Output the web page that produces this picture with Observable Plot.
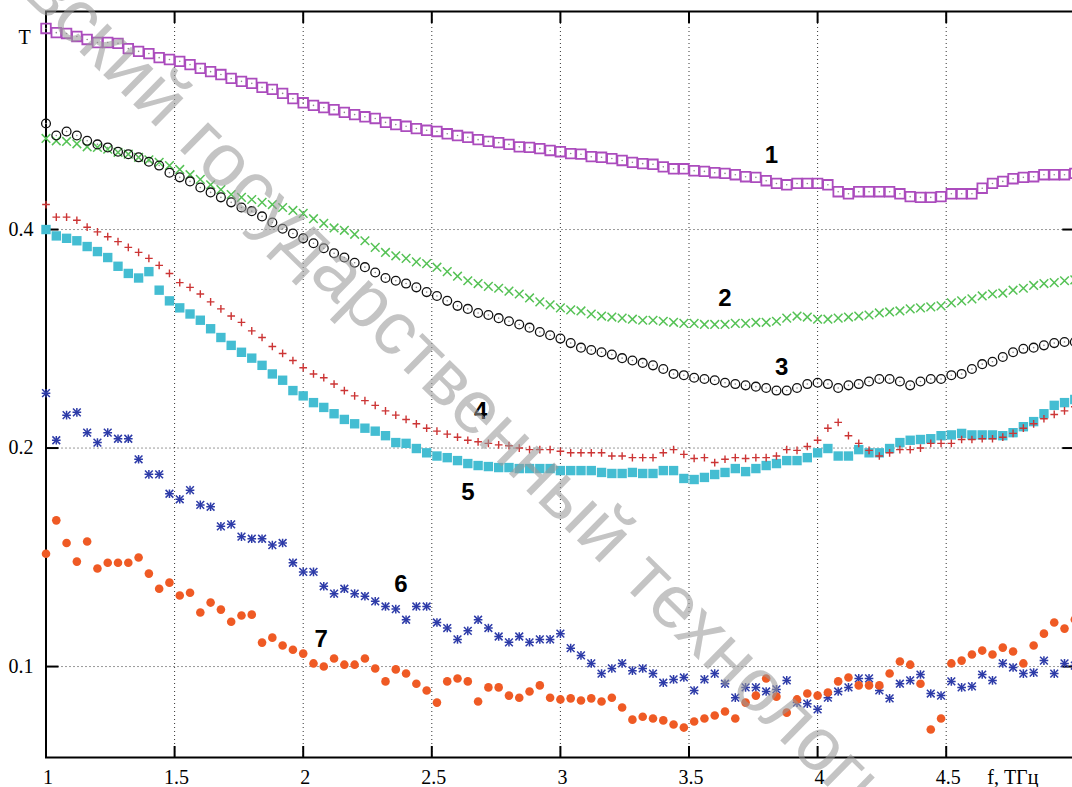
<!DOCTYPE html>
<html><head><meta charset="utf-8">
<script src="https://cdn.jsdelivr.net/npm/d3@7"></script>
<script src="https://cdn.jsdelivr.net/npm/@observablehq/plot@0.6"></script>
<style>
html,body{margin:0;padding:0;background:#fff;overflow:hidden}
#wrap{position:relative;width:1072px;height:787px;overflow:hidden;background:#fff}
#wm{position:absolute;left:0;top:0;pointer-events:none}
</style></head><body><div id="wrap"></div>
<script>
// frequency grid (THz), 0.04 THz step
const freqStep = 0.04;
const freq = d3.range(101).map(i => +(1 + i * freqStep).toFixed(2));

// transmission T of each sample
const s1 = [0.757,0.747,0.745,0.738,0.731,0.724,0.724,0.722,0.710,0.704,
0.699,0.690,0.686,0.682,0.675,0.667,0.660,0.654,0.646,0.640,
0.636,0.628,0.624,0.616,0.606,0.598,0.593,0.589,0.585,0.580,
0.576,0.572,0.569,0.562,0.558,0.555,0.551,0.548,0.546,0.542,
0.539,0.536,0.532,0.529,0.527,0.524,0.520,0.519,0.517,0.514,
0.512,0.509,0.508,0.504,0.503,0.501,0.498,0.495,0.493,0.492,
0.488,0.485,0.485,0.482,0.481,0.479,0.478,0.476,0.473,0.472,
0.467,0.463,0.461,0.463,0.463,0.463,0.461,0.451,0.448,0.451,
0.451,0.451,0.451,0.448,0.444,0.443,0.443,0.444,0.448,0.448,
0.448,0.456,0.463,0.466,0.470,0.472,0.473,0.476,0.476,0.476,
0.478];
const s2 = [0.534,0.530,0.529,0.525,0.520,0.519,0.516,0.511,0.508,0.503,
0.499,0.495,0.490,0.484,0.476,0.469,0.461,0.454,0.447,0.443,
0.440,0.436,0.433,0.429,0.425,0.421,0.414,0.408,0.402,0.399,
0.394,0.386,0.378,0.372,0.368,0.365,0.361,0.359,0.355,0.350,
0.345,0.340,0.337,0.334,0.332,0.329,0.326,0.322,0.318,0.315,
0.312,0.310,0.309,0.306,0.304,0.303,0.302,0.301,0.300,0.300,
0.299,0.298,0.297,0.297,0.296,0.296,0.296,0.297,0.297,0.298,
0.298,0.299,0.302,0.304,0.303,0.301,0.301,0.302,0.303,0.304,
0.305,0.307,0.308,0.309,0.311,0.312,0.313,0.314,0.317,0.319,
0.321,0.324,0.326,0.327,0.330,0.332,0.335,0.337,0.338,0.340,
0.341];
const s3 = [0.560,0.539,0.546,0.539,0.530,0.524,0.519,0.512,0.508,0.503,
0.496,0.490,0.479,0.472,0.466,0.457,0.450,0.443,0.436,0.429,
0.424,0.417,0.409,0.401,0.395,0.389,0.383,0.377,0.371,0.366,
0.360,0.355,0.349,0.343,0.340,0.337,0.333,0.328,0.324,0.319,
0.314,0.311,0.307,0.305,0.302,0.299,0.296,0.293,0.289,0.286,
0.283,0.279,0.275,0.273,0.271,0.269,0.266,0.264,0.262,0.260,
0.257,0.253,0.252,0.250,0.249,0.248,0.246,0.245,0.244,0.243,
0.242,0.240,0.240,0.242,0.245,0.246,0.245,0.242,0.244,0.245,
0.247,0.249,0.249,0.247,0.244,0.247,0.249,0.249,0.252,0.253,
0.257,0.261,0.263,0.267,0.271,0.274,0.275,0.277,0.279,0.280,
0.280];
const s4 = [0.433,0.416,0.416,0.412,0.403,0.397,0.391,0.385,0.378,0.372,
0.365,0.357,0.348,0.338,0.333,0.326,0.318,0.311,0.304,0.298,
0.290,0.284,0.276,0.270,0.264,0.258,0.253,0.250,0.245,0.240,
0.236,0.2325,0.229,0.225,0.222,0.219,0.216,0.213,0.211,0.209,
0.207,0.205,0.204,0.203,0.202,0.2015,0.200,0.199,0.199,0.199,
0.198,0.197,0.197,0.197,0.197,0.195,0.195,0.194,0.194,0.194,
0.197,0.199,0.196,0.1935,0.194,0.191,0.193,0.194,0.1935,0.194,
0.194,0.195,0.199,0.1985,0.201,0.205,0.213,0.217,0.208,0.203,
0.1985,0.195,0.197,0.199,0.199,0.200,0.203,0.203,0.203,0.2055,
0.2055,0.206,0.206,0.207,0.2095,0.213,0.216,0.2195,0.2225,0.225,
0.228];
const s5 = [0.400,0.392,0.389,0.386,0.379,0.373,0.366,0.356,0.348,0.343,
0.350,0.330,0.319,0.312,0.306,0.300,0.292,0.284,0.277,0.271,
0.266,0.260,0.253,0.248,0.240,0.236,0.231,0.2275,0.223,0.219,
0.216,0.213,0.211,0.208,0.2035,0.203,0.1997,0.197,0.195,0.194,
0.1922,0.1904,0.1892,0.1886,0.188,0.188,0.1874,0.1874,0.1874,0.1874,
0.1862,0.1862,0.1862,0.1862,0.1851,0.1845,0.1845,0.1851,0.1845,0.1845,
0.1862,0.1862,0.1816,0.181,0.1822,0.1839,0.1851,0.1874,0.1856,0.1874,
0.1892,0.1904,0.1922,0.1922,0.194,0.197,0.1997,0.195,0.195,0.199,
0.197,0.197,0.1997,0.2035,0.205,0.2055,0.206,0.208,0.2085,0.2095,
0.2085,0.2085,0.2085,0.208,0.210,0.214,0.2175,0.223,0.229,0.231,
0.2333];
const s6 = [0.238,0.205,0.222,0.224,0.210,0.2035,0.210,0.206,0.206,0.193,
0.184,0.184,0.173,0.170,0.175,0.167,0.166,0.156,0.157,0.151,
0.150,0.150,0.147,0.148,0.139,0.135,0.135,0.129,0.126,0.128,
0.126,0.125,0.123,0.121,0.120,0.116,0.121,0.121,0.115,0.113,
0.109,0.112,0.116,0.113,0.110,0.108,0.110,0.108,0.109,0.109,
0.111,0.106,0.1036,0.101,0.0978,0.0994,0.101,0.0987,0.0994,0.0978,
0.0950,0.0960,0.0966,0.0927,0.0960,0.0978,0.0947,0.0906,0.0936,0.0936,
0.0924,0.0930,0.0957,0.0892,0.0889,0.0873,0.0906,0.0924,0.0936,0.0963,
0.0963,0.0927,0.0904,0.0947,0.0957,0.0975,0.0918,0.0912,0.0954,0.0936,
0.0939,0.0975,0.0957,0.1010,0.0997,0.0978,0.0981,0.1019,0.0978,0.1010,
0.1003];
const s7 = [0.143,0.159,0.148,0.1395,0.1487,0.1365,0.139,0.139,0.139,0.1413,
0.1343,0.128,0.1305,0.1253,0.1264,0.1187,0.1225,0.1198,0.1153,0.1176,
0.1179,0.1079,0.1096,0.1069,0.1055,0.1042,0.1010,0.1000,0.1026,0.1006,
0.1006,0.1026,0.0994,0.0954,0.0991,0.0978,0.0947,0.0927,0.0892,0.0954,
0.0963,0.0954,0.0895,0.0936,0.0936,0.0912,0.0906,0.0924,0.0942,0.0906,
0.0901,0.0904,0.0898,0.0904,0.0895,0.0906,0.0878,0.0845,0.0853,0.0848,
0.0843,0.0832,0.0824,0.0840,0.0848,0.0856,0.0867,0.0848,0.0892,0.0912,
0.0963,0.0909,0.0864,0.0901,0.0918,0.0912,0.0921,0.0954,0.0966,0.0942,
0.0942,0.0942,0.0978,0.1016,0.1006,0.0947,0.0819,0.0848,0.1010,0.1019,
0.1039,0.1052,0.1039,0.1062,0.1049,0.1010,0.1069,0.1110,0.1150,0.1128,
0.1161];

// curve number labels and where they sit (f, T)
const seriesNames = ["1","2","3","4","5","6","7"];
const labelF = [3.82, 3.64, 3.86, 2.69, 2.64, 2.38, 2.07];
const labelT = [0.506, 0.322, 0.258, 0.225, 0.174, 0.130, 0.109];

const xTicks = [1, 1.5, 2, 2.5, 3, 3.5, 4, 4.5, 5];
const xGrid = [1.5, 2, 2.5, 3, 3.5, 4, 4.5];
const yTicks = [0.1, 0.2, 0.4];
const xLabel = "f, ТГц";
const yLabel = "T";
const watermark = ["Московский", "государственный", "технологический университет"];

const rows = arr => arr.map((t, i) => ({f: freq[i], t}));
const d1 = rows(s1), d2 = rows(s2), d3r = rows(s3), d4 = rows(s4), d5 = rows(s5), d6 = rows(s6), d7 = rows(s7);

const serif = "'Liberation Serif','DejaVu Serif',serif";
const sans = "'Liberation Sans',Arial,sans-serif";
const gridStyle = {stroke: "#000", strokeOpacity: 0.8, strokeWidth: 1, strokeDasharray: "1,3"};

const chart = Plot.plot({
  width: 1072, height: 787,
  marginLeft: 45.5, marginRight: -2.3, marginTop: 11, marginBottom: 30,
  style: {fontFamily: serif, fontSize: "20px", background: "#fff", color: "#000"},
  x: {domain: [1, 5]},
  y: {type: "log", domain: [0.07494, 0.7988]},
  marks: [
    Plot.gridX(xGrid, gridStyle),
    Plot.gridY(yTicks, gridStyle),
    Plot.frame({stroke: "#000", strokeWidth: 2}),
    Plot.axisX(xTicks, {anchor: "bottom", tickSize: -11, strokeWidth: 2, tickFormat: () => "", label: null}),
    Plot.axisX(xTicks, {anchor: "top", tickSize: -11, strokeWidth: 2, tickFormat: () => "", label: null}),
    Plot.axisY(yTicks, {anchor: "left", tickSize: -13, strokeWidth: 2, tickFormat: () => "", label: null}),
    Plot.axisY(yTicks, {anchor: "right", tickSize: -13, strokeWidth: 2, tickFormat: () => "", label: null}),
    Plot.axisX(xTicks.slice(0, -1), {anchor: "bottom", tickSize: 0, tickPadding: 12, dx: 2, tickFormat: d => String(d), label: null, fontSize: 20}),
    Plot.axisY(yTicks, {anchor: "left", tickSize: 0, tickPadding: 12.5, tickFormat: d => String(d), label: null, fontSize: 20}),
    Plot.text([yLabel], {frameAnchor: "top-left", dx: -21.5, dy: 26, textAnchor: "middle", lineAnchor: "middle", fontSize: 20, fontFamily: serif}),
    Plot.text([xLabel], {frameAnchor: "bottom-right", dx: -62, dy: 20, textAnchor: "middle", lineAnchor: "middle", fontSize: 20, fontFamily: serif}),
    // 1: hollow magenta squares with a dot
    Plot.dot(d1, {x: "f", y: "t", symbol: "square", r: 5.4, stroke: "#ab4cbd", strokeWidth: 1.8, fill: "none"}),
    Plot.dot(d1, {x: "f", y: "t", r: 0.8, fill: "#8a8a8a", stroke: "none"}),
    // 2: green crosses
    Plot.dot(d2, {x: "f", y: "t", symbol: "times", r: 4.0, stroke: "#55c255", strokeWidth: 1.5}),
    // 3: black hollow circles with a dot
    Plot.dot(d3r, {x: "f", y: "t", r: 4.4, stroke: "#111", strokeWidth: 1.3, fill: "none"}),
    Plot.dot(d3r, {x: "f", y: "t", r: 0.8, fill: "#888", stroke: "none"}),
    // 5: cyan filled squares
    Plot.dot(d5, {x: "f", y: "t", symbol: "square", r: 5.3, fill: "#44bdd2", stroke: "none"}),
    // 4: red pluses
    Plot.dot(d4, {x: "f", y: "t", symbol: "plus", r: 2.6, stroke: "#cc3535", strokeWidth: 1.4}),
    // 6: blue stars
    Plot.dot(d6, {x: "f", y: "t", symbol: "plus", r: 2.9, stroke: "#2d3ba8", strokeWidth: 1.5}),
    Plot.dot(d6, {x: "f", y: "t", symbol: "times", r: 3.6, stroke: "#2d3ba8", strokeWidth: 1.5}),
    // 7: orange filled circles
    Plot.dot(d7, {x: "f", y: "t", r: 4.3, fill: "#ef5a24", stroke: "none"}),
    // curve numbers
    Plot.text(seriesNames, {x: (d, i) => labelF[i], y: (d, i) => labelT[i], text: d => d, fontFamily: sans, fontWeight: "bold", fontSize: 24, fill: "#000"})
  ]
});
const wrap = document.getElementById("wrap");
wrap.appendChild(chart);

// diagonal watermark overlay
const ns = "http://www.w3.org/2000/svg";
const wm = document.createElementNS(ns, "svg");
wm.setAttribute("id", "wm");
wm.setAttribute("width", 1072); wm.setAttribute("height", 787);
const g = document.createElementNS(ns, "g");
g.setAttribute("transform", "translate(408,338) rotate(44.5)");
g.setAttribute("font-family", sans);
g.setAttribute("font-size", "75");
g.setAttribute("fill", "#9a9a9a");
g.setAttribute("fill-opacity", "0.58");
wm.appendChild(g);
wrap.appendChild(wm);
function addText(s, anchor) {
  const t = document.createElementNS(ns, "text");
  t.textContent = s;
  t.setAttribute("text-anchor", anchor);
  t.setAttribute("dominant-baseline", "central");
  g.appendChild(t);
  return t;
}
const mid = addText(watermark[1], "middle");
const w = mid.getComputedTextLength();
const gap = 24;
const left = addText(watermark[0], "end"); left.setAttribute("x", -w / 2 - gap);
const right = addText(watermark[2], "start"); right.setAttribute("x", w / 2 + gap);
</script></body></html>
